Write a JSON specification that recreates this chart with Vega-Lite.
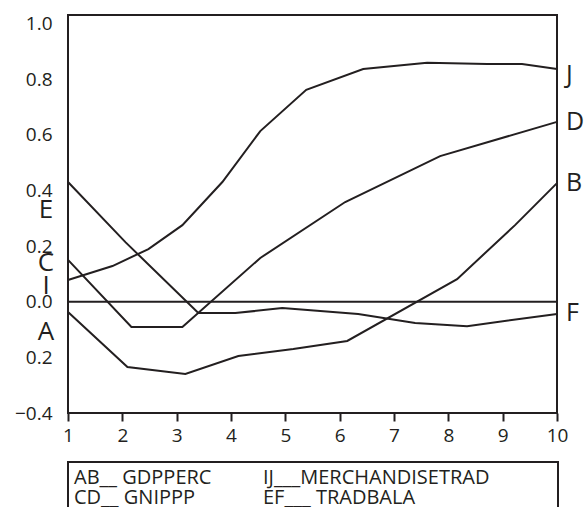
{
  "$schema": "https://vega.github.io/schema/vega-lite/v6.json",
  "width": 489,
  "height": 398,
  "autosize": {"type": "none"},
  "padding": {"left": 68, "top": 15, "right": 30, "bottom": 94},
  "background": "white",
  "config": {
    "view": {"stroke": "#231f20", "strokeWidth": 2},
    "font": "Open Sans"
  },
  "datasets": {
    "lines": [
      {"series": "AB__ GDPPERC", "x": 1.0, "y": -0.037},
      {"series": "AB__ GDPPERC", "x": 2.094, "y": -0.235},
      {"series": "AB__ GDPPERC", "x": 3.16, "y": -0.26},
      {"series": "AB__ GDPPERC", "x": 4.135, "y": -0.195},
      {"series": "AB__ GDPPERC", "x": 5.146, "y": -0.17},
      {"series": "AB__ GDPPERC", "x": 6.139, "y": -0.141},
      {"series": "AB__ GDPPERC", "x": 8.161, "y": 0.081},
      {"series": "AB__ GDPPERC", "x": 9.228, "y": 0.275},
      {"series": "AB__ GDPPERC", "x": 10.0, "y": 0.426},
      {"series": "IJ___MERCHANDISETRAD", "x": 1.0, "y": 0.078},
      {"series": "IJ___MERCHANDISETRAD", "x": 1.818, "y": 0.128},
      {"series": "IJ___MERCHANDISETRAD", "x": 2.48, "y": 0.189},
      {"series": "IJ___MERCHANDISETRAD", "x": 3.105, "y": 0.275},
      {"series": "IJ___MERCHANDISETRAD", "x": 3.841, "y": 0.43},
      {"series": "IJ___MERCHANDISETRAD", "x": 4.539, "y": 0.613},
      {"series": "IJ___MERCHANDISETRAD", "x": 5.385, "y": 0.761},
      {"series": "IJ___MERCHANDISETRAD", "x": 6.433, "y": 0.836},
      {"series": "IJ___MERCHANDISETRAD", "x": 7.61, "y": 0.858},
      {"series": "IJ___MERCHANDISETRAD", "x": 8.713, "y": 0.854},
      {"series": "IJ___MERCHANDISETRAD", "x": 9.356, "y": 0.854},
      {"series": "IJ___MERCHANDISETRAD", "x": 10.0, "y": 0.836},
      {"series": "CD__ GNIPPP", "x": 1.0, "y": 0.15},
      {"series": "CD__ GNIPPP", "x": 2.167, "y": -0.091},
      {"series": "CD__ GNIPPP", "x": 3.105, "y": -0.091},
      {"series": "CD__ GNIPPP", "x": 4.539, "y": 0.157},
      {"series": "CD__ GNIPPP", "x": 6.102, "y": 0.358},
      {"series": "CD__ GNIPPP", "x": 7.849, "y": 0.523},
      {"series": "CD__ GNIPPP", "x": 10.0, "y": 0.646},
      {"series": "EF___ TRADBALA", "x": 1.0, "y": 0.43},
      {"series": "EF___ TRADBALA", "x": 2.057, "y": 0.214},
      {"series": "EF___ TRADBALA", "x": 3.399, "y": -0.041},
      {"series": "EF___ TRADBALA", "x": 4.08, "y": -0.041},
      {"series": "EF___ TRADBALA", "x": 4.944, "y": -0.023},
      {"series": "EF___ TRADBALA", "x": 6.341, "y": -0.044},
      {"series": "EF___ TRADBALA", "x": 7.389, "y": -0.077},
      {"series": "EF___ TRADBALA", "x": 8.345, "y": -0.088},
      {"series": "EF___ TRADBALA", "x": 10.0, "y": -0.044}
    ],
    "letters": [
      {"letter": "E", "side": "left", "x": 1, "y": 0.329},
      {"letter": "C", "side": "left", "x": 1, "y": 0.139},
      {"letter": "I", "side": "left", "x": 1, "y": 0.056},
      {"letter": "A", "side": "left", "x": 1, "y": -0.109},
      {"letter": "J", "side": "right", "x": 10, "y": 0.814},
      {"letter": "D", "side": "right", "x": 10, "y": 0.646},
      {"letter": "B", "side": "right", "x": 10, "y": 0.426},
      {"letter": "F", "side": "right", "x": 10, "y": -0.041}
    ],
    "zero": [{"v": 0}]
  },
  "layer": [
    {
      "data": {"name": "lines"},
      "mark": {"type": "line", "strokeWidth": 2, "clip": false},
      "encoding": {
        "x": {
          "field": "x", "type": "quantitative",
          "scale": {"domain": [1, 10], "nice": false, "zero": false},
          "axis": {
            "title": null, "values": [1,2,3,4,5,6,7,8,9,10], "format": "d",
            "domain": false, "grid": false, "tickColor": "#231f20", "tickWidth": 2, "tickSize": 8,
            "labelFontSize": 19, "labelColor": "#231f20", "labelPadding": 5, "labelFont": "Open Sans",
            "labelFlush": false, "labelOverlap": false
          }
        },
        "y": {
          "field": "y", "type": "quantitative",
          "scale": {"domain": [-0.4, 1.03], "nice": false, "zero": false},
          "axis": {
            "title": null, "values": [-0.4, -0.2, 0, 0.2, 0.4, 0.6, 0.8, 1.0],
            "labelExpr": "abs(datum.value + 0.2) < 1e-6 ? '0.2' : format(datum.value, '.1f')",
            "domain": false, "grid": false, "ticks": false, "labelPadding": 16,
            "labelFontSize": 19, "labelColor": "#231f20", "labelFont": "Open Sans", "labelOverlap": false
          }
        },
        "color": {
          "field": "series", "type": "nominal",
          "sort": ["AB__ GDPPERC", "IJ___MERCHANDISETRAD", "CD__ GNIPPP", "EF___ TRADBALA"],
          "scale": {"range": ["#231f20", "#231f20", "#231f20", "#231f20"]},
          "legend": {
            "title": null, "orient": "bottom", "columns": 2, "offset": 17,
            "symbolType": "circle", "symbolOpacity": 0, "symbolSize": 1, "symbolStrokeWidth": 0, "labelOffset": -20,
            "labelFontSize": 20, "labelFont": "Open Sans", "labelColor": "#231f20",
            "labelExpr": "datum.label == 'IJ___MERCHANDISETRAD' ? datum.label + '\u00a0\u00a0\u00a0\u00a0\u00a0\u00a0\u00a0\u00a0\u00a0\u00a0\u00a0\u00a0\u200b' : datum.label",
            "strokeColor": "#231f20", "padding": 6, "rowPadding": -1, "columnPadding": 51,
            "labelLimit": 600,
            "encode": {"legend": {"update": {"strokeWidth": {"value": 2}}}}
          }
        }
      }
    },
    {
      "data": {"name": "zero"},
      "mark": {"type": "rule", "color": "#231f20", "strokeWidth": 2},
      "encoding": {"y": {"field": "v", "type": "quantitative"}}
    },
    {
      "data": {"name": "letters"},
      "transform": [{"filter": "datum.side == 'left'"}],
      "mark": {"type": "text", "align": "center", "baseline": "middle", "dx": -22, "fontSize": 26, "font": "Open Sans", "color": "#231f20", "clip": false},
      "encoding": {
        "x": {"field": "x", "type": "quantitative"},
        "y": {"field": "y", "type": "quantitative"},
        "text": {"field": "letter"}
      }
    },
    {
      "data": {"name": "letters"},
      "transform": [{"filter": "datum.side == 'right'"}],
      "mark": {"type": "text", "align": "left", "baseline": "middle", "dx": 9, "fontSize": 25, "font": "Open Sans", "color": "#231f20", "clip": false},
      "encoding": {
        "x": {"field": "x", "type": "quantitative"},
        "y": {"field": "y", "type": "quantitative"},
        "text": {"field": "letter"}
      }
    }
  ]
}
